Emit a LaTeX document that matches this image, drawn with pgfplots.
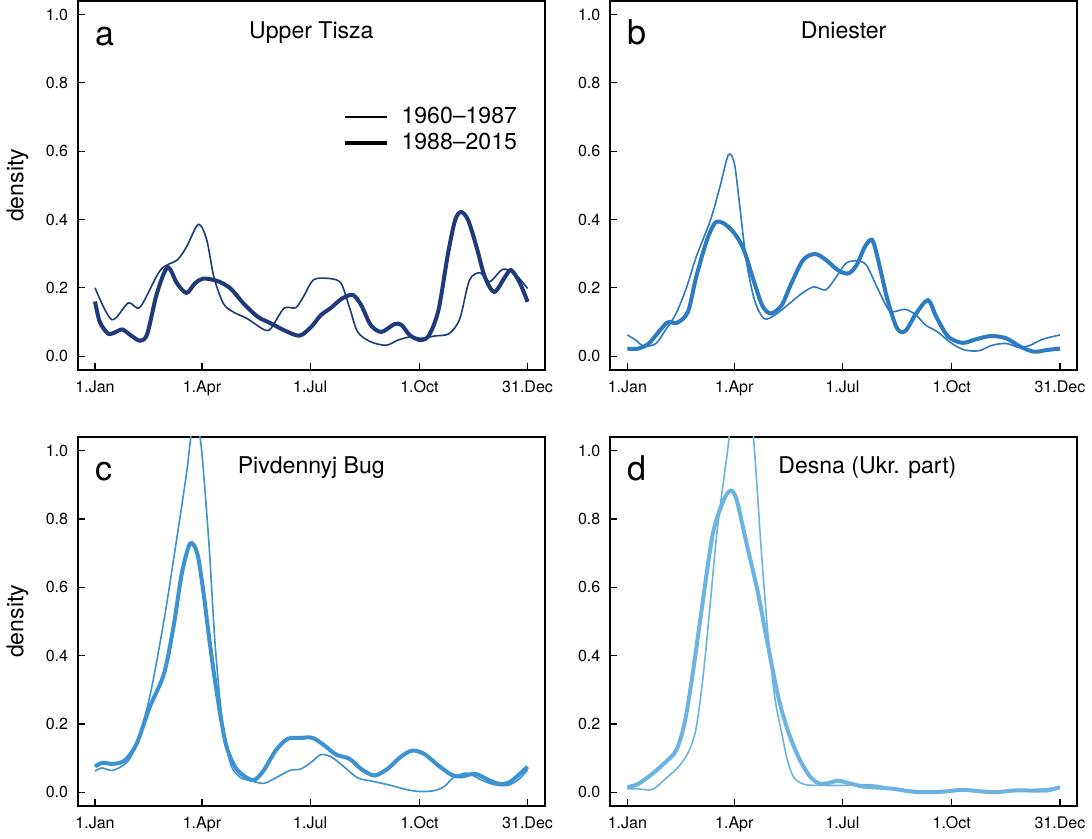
\documentclass[border=0pt]{standalone}
\usepackage{fontspec}
\setmainfont{TeX Gyre Heros}
\usepackage{pgfplots}
\pgfplotsset{compat=1.18}
\usepgfplotslibrary{groupplots}

\definecolor{cA}{HTML}{1F3A7A}
\definecolor{cB}{HTML}{2C7BC3}
\definecolor{cC}{HTML}{3B93D3}
\definecolor{cD}{HTML}{6BB3E2}

\tikzset{
  ttl/.style={anchor=base, font=\fontsize{11.5}{13}\selectfont},
  lett/.style={anchor=base west, inner sep=0pt, font=\fontsize{17}{20}\selectfont},
}
\pgfplotsset{
  panel/.style={
    scale only axis, width=233pt, height=184pt,
    xmin=-13.56, xmax=379.56, ymin=-0.04, ymax=1.04,
    xtick={1,91,182,274,365},
    xticklabels={1.Jan,1.Apr,1.Jul,1.Oct,31.Dec},
    ytick={0,0.2,0.4,0.6,0.8,1.0},
    /pgf/number format/fixed,
    /pgf/number format/fixed zerofill,
    /pgf/number format/precision=1,
    /pgf/number format/assume math mode=true,
    tick label style={font=\fontsize{8}{9}\selectfont, black},
    xticklabel style={yshift=-1.8pt},
    yticklabel style={xshift=-1.3pt},
    tick align=inside, xtick pos=bottom, ytick pos=left,
    major tick length=3.5pt,
    tick style={black, line width=0.6pt},
    axis line style={black, line width=0.9pt},
    every axis y label/.style={at={(rel axis cs:0,0.5)}, xshift=-30pt, rotate=90, anchor=center, font=\fontsize{11.5}{13}\selectfont},
    clip=true,
  },
  thinline/.style={smooth, no marks, line width=0.8pt},
  thickline/.style={smooth, no marks, line width=2pt},
}

\begin{document}
\begin{tikzpicture}
\begin{groupplot}[group style={group size=2 by 2, horizontal sep=32.5pt, vertical sep=33.5pt}, panel]

% a: Upper Tisza
\nextgroupplot[ylabel=density,
  legend style={draw=none, fill=none, at={(rel axis cs:0.555,0.65)}, anchor=west,
    font=\fontsize{11.5}{13}\selectfont, row sep=0pt,
    nodes={inner sep=1pt, text height=8.5pt, text depth=2.5pt}},
  legend cell align=left,
  legend image code/.code={\draw[#1, draw=black] (0pt,0pt) -- (20.5pt,0pt); \path (26pt,0pt);}]
\addplot[thinline, cA] coordinates {(1,0.20)(15,0.107)(29,0.156)(39,0.144)(56,0.252)(70,0.281)(78,0.32)(88,0.386)(95,0.34)(101,0.232)(109,0.154)(118,0.128)(129,0.11)(143,0.078)(149,0.081)(160,0.14)(170,0.142)(177,0.178)(185,0.224)(199,0.227)(208,0.213)(215,0.144)(222,0.071)(233,0.042)(246,0.032)(256,0.047)(267,0.057)(275,0.052)(287,0.059)(299,0.066)(308,0.11)(316,0.222)(325,0.244)(333,0.218)(344,0.254)(354,0.242)(365,0.198)};
\addlegendentry{1960–1987}
\addplot[thickline, cA] coordinates {(1,0.16)(5,0.10)(12,0.066)(18,0.07)(24,0.078)(31,0.061)(39,0.045)(45,0.066)(53,0.183)(62,0.26)(70,0.213)(78,0.185)(85,0.213)(92,0.227)(104,0.22)(115,0.198)(126,0.154)(138,0.115)(149,0.096)(160,0.076)(173,0.06)(183,0.086)(191,0.12)(199,0.14)(209,0.169)(218,0.179)(225,0.149)(233,0.091)(242,0.071)(253,0.094)(259,0.091)(266,0.061)(275,0.047)(282,0.061)(290,0.135)(298,0.30)(304,0.398)(309,0.422)(315,0.398)(322,0.32)(329,0.232)(337,0.188)(346,0.232)(351,0.252)(358,0.218)(365,0.159)};
\addlegendentry{1988–2015}
\node[lett] at (axis cs:1,0.91) {a};
\node[ttl] at (axis cs:183,0.93) {Upper Tisza};

% b: Dniester
\nextgroupplot
\addplot[thinline, cB] coordinates {(1,0.062)(8,0.047)(15,0.029)(25,0.037)(33,0.076)(42,0.125)(51,0.203)(59,0.291)(71,0.399)(79,0.497)(86,0.589)(91,0.565)(95,0.457)(101,0.282)(108,0.164)(116,0.11)(125,0.12)(136,0.15)(148,0.184)(158,0.203)(168,0.194)(177,0.233)(185,0.272)(194,0.279)(202,0.267)(211,0.203)(220,0.14)(225,0.13)(235,0.137)(244,0.12)(252,0.091)(262,0.071)(274,0.037)(285,0.018)(297,0.016)(308,0.032)(320,0.037)(331,0.025)(340,0.032)(351,0.05)(365,0.062)};
\addplot[thickline, cB] coordinates {(1,0.022)(10,0.022)(19,0.037)(28,0.074)(35,0.099)(43,0.098)(52,0.13)(59,0.233)(68,0.34)(75,0.391)(82,0.389)(91,0.36)(99,0.311)(108,0.213)(115,0.145)(122,0.125)(131,0.15)(139,0.213)(149,0.282)(159,0.299)(168,0.282)(178,0.252)(187,0.242)(194,0.267)(201,0.321)(207,0.34)(212,0.282)(220,0.164)(228,0.081)(235,0.074)(244,0.125)(254,0.164)(261,0.115)(271,0.057)(283,0.039)(294,0.049)(307,0.059)(320,0.052)(331,0.029)(343,0.013)(354,0.018)(365,0.022)};
\node[lett] at (axis cs:1,0.912) {b};
\node[ttl] at (axis cs:183,0.93) {Dniester};

% c: Pivdennyj Bug
\nextgroupplot[ylabel=density]
\addplot[thinline, cC] coordinates {(1,0.062)(7,0.071)(16,0.064)(28,0.088)(36,0.142)(47,0.279)(59,0.503)(70,0.748)(78,0.934)(82,1.05)(85,1.08)(88,1.06)(91,0.99)(97,0.72)(102,0.435)(108,0.21)(115,0.083)(123,0.044)(132,0.034)(143,0.026)(154,0.044)(165,0.064)(174,0.068)(183,0.088)(191,0.11)(200,0.103)(211,0.073)(222,0.042)(236,0.031)(250,0.02)(264,0.007)(275,0.002)(287,0.005)(295,0.017)(303,0.044)(314,0.056)(326,0.036)(337,0.022)(348,0.02)(357,0.036)(365,0.065)};
\addplot[thickline, cC] coordinates {(1,0.075)(7,0.086)(16,0.083)(26,0.093)(36,0.142)(47,0.249)(59,0.347)(67,0.484)(74,0.64)(81,0.728)(87,0.699)(92,0.591)(98,0.425)(104,0.279)(111,0.142)(119,0.073)(128,0.044)(135,0.036)(143,0.064)(153,0.122)(163,0.156)(174,0.159)(184,0.159)(194,0.137)(204,0.11)(215,0.098)(225,0.068)(236,0.049)(247,0.068)(258,0.103)(268,0.122)(278,0.112)(290,0.078)(301,0.051)(309,0.046)(321,0.054)(332,0.036)(342,0.024)(351,0.032)(365,0.075)};
\node[lett] at (axis cs:1,0.914) {c};
\node[ttl] at (axis cs:183,0.933) {Pivdennyj Bug};

% d: Desna
\nextgroupplot
\addplot[thinline, cD] coordinates {(1,0.01)(10,0.01)(22,0.008)(33,0.039)(45,0.078)(53,0.122)(59,0.19)(65,0.347)(71,0.562)(76,0.748)(82,0.914)(86,1.02)(91,1.2)(97,1.3)(103,1.2)(108,1.0)(113.5,0.718)(119,0.474)(125,0.279)(131,0.171)(136.5,0.083)(142,0.039)(151,0.022)(165,0.02)(182,0.02)(197,0.022)(211,0.02)(225,0.01)(254,0.002)(283,0.005)(311,0.002)(340,0.007)(365,0.013)};
\addplot[thickline, cD] coordinates {(1,0.015)(10,0.024)(22,0.054)(33,0.088)(42,0.122)(49,0.2)(56,0.347)(65,0.572)(73,0.758)(82,0.855)(88,0.883)(93,0.855)(102,0.718)(111,0.582)(119,0.435)(128,0.279)(136,0.181)(145,0.103)(154,0.049)(162,0.026)(171,0.027)(178,0.034)(188,0.026)(199,0.017)(214,0.013)(225,0.01)(240,0.002)(254,0.0)(268,0.002)(283,0.007)(297,0.003)(311,0.0)(326,0.005)(340,0.005)(354,0.005)(365,0.015)};
\node[lett] at (axis cs:1,0.914) {d};
\node[ttl] at (axis cs:203,0.933) {Desna (Ukr. part)};

\end{groupplot}
\end{tikzpicture}
\end{document}
